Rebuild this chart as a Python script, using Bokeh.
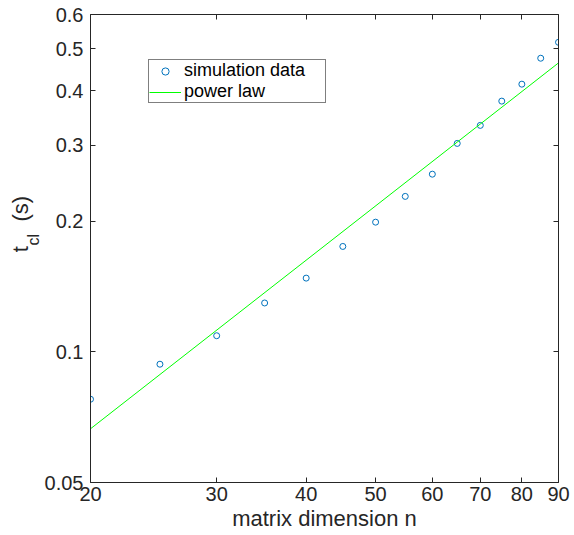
from bokeh.plotting import figure
from bokeh.models import Range1d, FixedTicker, LogAxis, Legend, LegendItem
from bokeh.embed import file_html
from bokeh.resources import INLINE

# ---- data ----
n_values = [20, 25, 30, 35, 40, 45, 50, 55, 60, 65, 70, 75, 80, 85, 90]
t_values = [0.0778, 0.0937, 0.1090, 0.1297, 0.1480, 0.1751, 0.1992, 0.2284,
            0.2570, 0.3026, 0.3330, 0.3788, 0.4145, 0.4757, 0.5177]
fit_n = [20, 90]
fit_t = [0.0665, 0.464]

x_ticks = [20, 30, 40, 50, 60, 70, 80, 90]
x_tick_labels = ["20", "30", "40", "50", "60", "70", "80", "90"]
y_ticks = [0.05, 0.1, 0.2, 0.3, 0.4, 0.5, 0.6]
y_tick_labels = ["0.05", "0.1", "0.2", "0.3", "0.4", "0.5", "0.6"]

FONT = "Liberation Sans"
AX = "#262626"
NB = "\u00a0"

p = figure(width=574, height=535, x_axis_type="log", y_axis_type="log",
           x_range=Range1d(20, 90), y_range=Range1d(0.05, 0.6),
           output_backend="svg", toolbar_location=None,
           min_border_left=90, min_border_right=16, min_border_top=14,
           min_border_bottom=53)
p.grid.visible = False
p.outline_line_color = None
p.background_fill_color = "white"
p.border_fill_color = "white"


def style_axis(ax, ticks, labels, show_labels):
    ax.ticker = FixedTicker(ticks=ticks)
    ax.axis_line_color = AX
    ax.axis_line_width = 1
    ax.major_tick_line_color = AX
    ax.major_tick_line_width = 1
    ax.major_tick_in = 5
    ax.major_tick_out = 0
    ax.minor_tick_line_color = None
    ax.major_label_text_font = FONT
    ax.major_label_text_color = AX
    if show_labels:
        ax.major_label_overrides = dict(zip(ticks, labels))
        ax.major_label_text_font_size = "20px"
    else:
        ax.major_label_overrides = {t: "" for t in ticks}
        ax.major_label_text_font_size = "0px"
        ax.major_label_standoff = 0


style_axis(p.xaxis[0], x_ticks, x_tick_labels, True)
style_axis(p.yaxis[0], y_ticks, y_tick_labels, True)
p.xaxis[0].major_label_standoff = 4
p.yaxis[0].major_label_standoff = 7
p.xaxis[0].axis_label = "matrix dimension n"
p.xaxis[0].axis_label_text_font = FONT
p.xaxis[0].axis_label_text_font_size = "22px"
p.xaxis[0].axis_label_text_font_style = "normal"
p.xaxis[0].axis_label_text_color = AX
p.xaxis[0].axis_label_standoff = 2

top_axis = LogAxis()
style_axis(top_axis, x_ticks, x_tick_labels, False)
p.add_layout(top_axis, "above")
right_axis = LogAxis()
style_axis(right_axis, y_ticks, y_tick_labels, False)
p.add_layout(right_axis, "right")


# y-axis title t_cl (s): two label-only axes on the left, the subscript
# nearer to the frame; leading no-break spaces shift each text along the axis
def label_axis(text, size, standoff):
    ax = LogAxis(ticker=FixedTicker(ticks=[]),
                 axis_line_color=None, major_tick_line_color=None,
                 minor_tick_line_color=None, major_tick_in=0, major_tick_out=0,
                 major_label_text_font_size="0px", major_label_standoff=0,
                 axis_label=text, axis_label_text_font=FONT,
                 axis_label_text_font_size=size,
                 axis_label_text_font_style="normal",
                 axis_label_text_color=AX, axis_label_standoff=standoff)
    p.add_layout(ax, "left")


label_axis(NB * 4 + "cl", "16px", 0)
label_axis(NB * 8 + "t" + NB * 4 + "(s)", "22px", -11)

r_data = p.scatter(n_values, t_values, marker="circle", size=6,
                   fill_color=None, line_color="#0072BD", line_width=1)
r_fit = p.line(fit_n, fit_t, line_color="#00FF00", line_width=1)

legend = Legend(items=[LegendItem(label="simulation data", renderers=[r_data]),
                       LegendItem(label="power law", renderers=[r_fit])],
                location=(58, 379), margin=0, padding=0, spacing=0,
                glyph_width=32, glyph_height=18, label_height=18,
                label_width=141, label_standoff=3,
                label_text_font=FONT, label_text_font_size="18px",
                label_text_color="black",
                border_line_color="black", border_line_width=1,
                background_fill_color="white", background_fill_alpha=1)
p.add_layout(legend)

open("out.html", "w").write(file_html(p, INLINE))
